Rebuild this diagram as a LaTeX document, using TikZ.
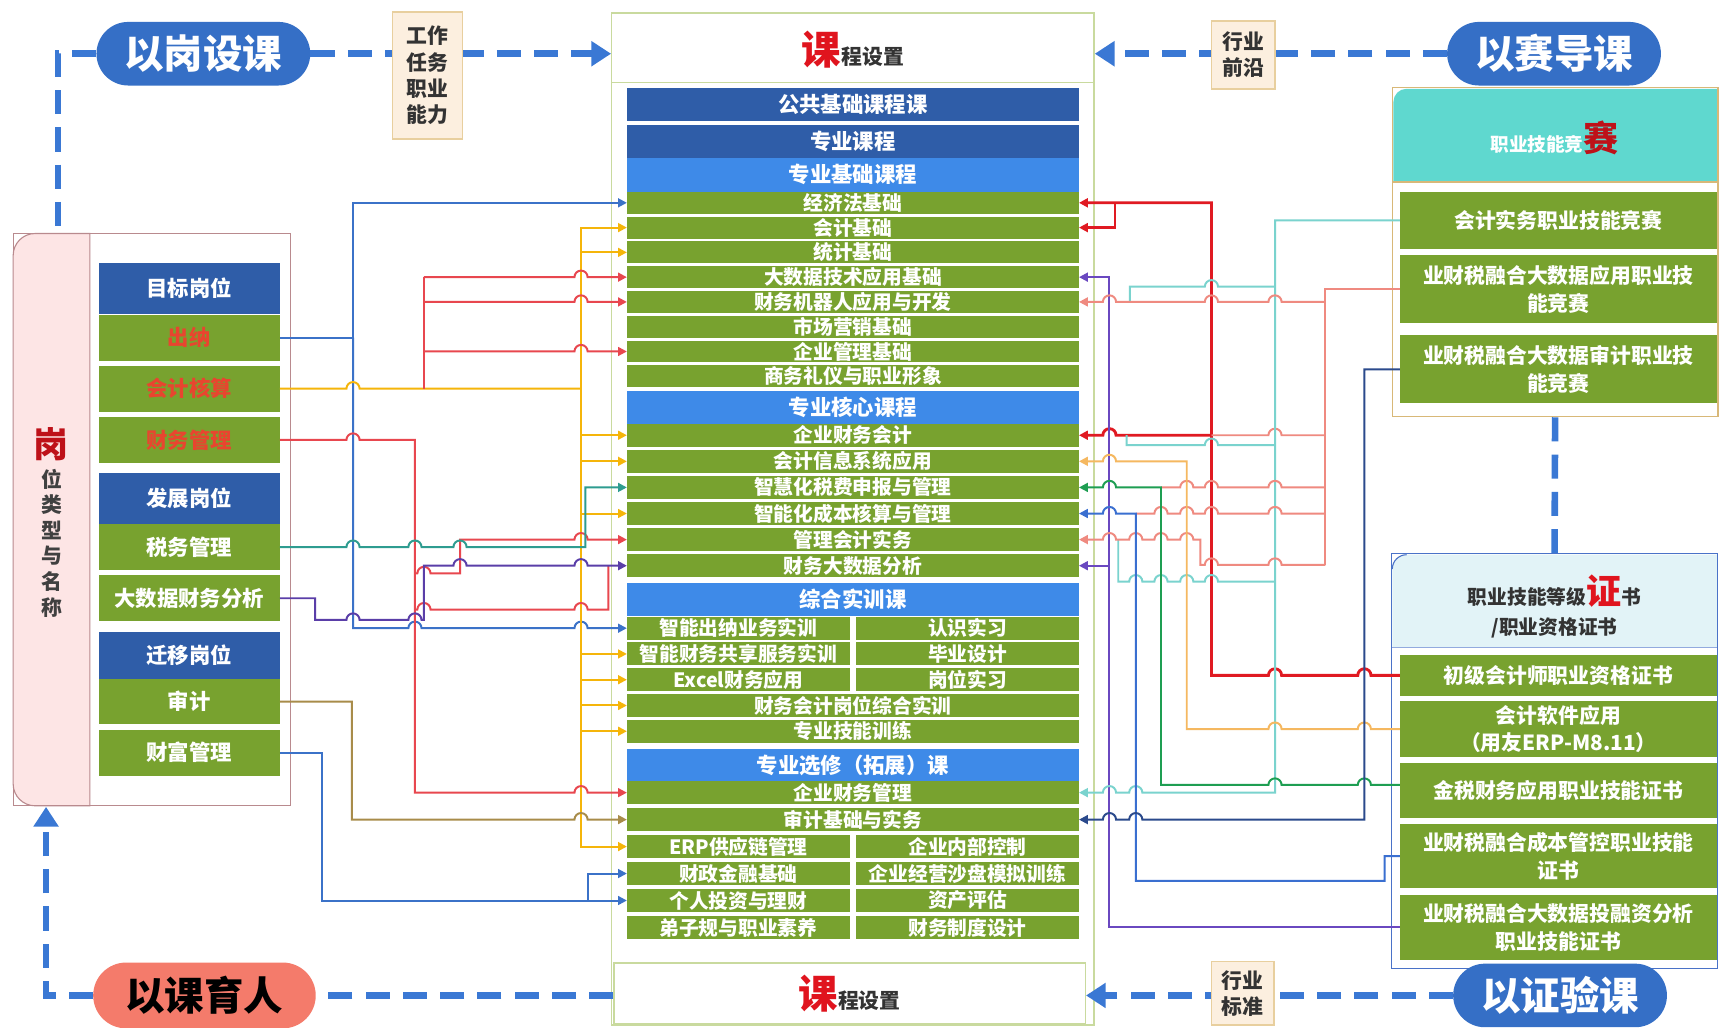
\documentclass[tikz,border=0pt]{standalone}
\usepackage{fontspec}
\setmainfont{Noto Sans CJK SC}
\usetikzlibrary{arrows.meta}
\newcommand\fsz[1]{\fontsize{#1}{#1}\selectfont}
\newcommand\hopR[2]{-- ({#1-6},#2) arc[start angle=180,end angle=0,radius=6pt]}
\newcommand\hopL[2]{-- ({#1+6},#2) arc[start angle=0,end angle=180,radius=6pt]}
\definecolor{dblue}{HTML}{2F5DA8}
\definecolor{lblue}{HTML}{3E8AE8}
\definecolor{grn}{HTML}{78A22F}
\definecolor{pillblue}{HTML}{356FC6}
\definecolor{dashblue}{HTML}{3A78D4}
\definecolor{salpill}{HTML}{F47B6B}
\definecolor{tabfill}{HTML}{FCEFDF}
\definecolor{tabdraw}{HTML}{E8CF9E}
\definecolor{framegrn}{HTML}{C9DA9E}
\definecolor{rose}{HTML}{B98A8E}
\definecolor{pinkfill}{HTML}{FDE5E5}
\definecolor{tealhdr}{HTML}{5FD8CF}
\definecolor{tanc}{HTML}{D8B878}
\definecolor{certhdr}{HTML}{E2F3F7}
\definecolor{certframe}{HTML}{4A72C8}
\definecolor{txtred}{HTML}{E8452F}
\definecolor{bigred}{HTML}{E0141E}
\definecolor{cBlue}{HTML}{3B72C8}
\definecolor{cYel}{HTML}{F5B50A}
\definecolor{cRed}{HTML}{E8474F}
\definecolor{cTeal}{HTML}{2E9C90}
\definecolor{cPur}{HTML}{5A3EA8}
\definecolor{cBrown}{HTML}{A88C4A}
\definecolor{cRedT}{HTML}{E01A22}
\definecolor{cPurB}{HTML}{6A48C0}
\definecolor{cCyan}{HTML}{7AD3CE}
\definecolor{cSal}{HTML}{EF8A80}
\definecolor{cGrn}{HTML}{1E9E52}
\definecolor{cBlueB}{HTML}{3A6FD0}
\definecolor{cYelB}{HTML}{F5B860}
\definecolor{cNavy}{HTML}{2B4A8C}
\begin{document}
\begin{tikzpicture}[x=1pt,y=-1pt,
  >={Triangle[length=8pt,width=8pt]},
  lk/.style={line width=1.8pt},
  lkT/.style={line width=2.6pt},
  dsh/.style={dashblue,line width=6pt,dash pattern=on 22pt off 12pt},
  dtip/.style={-{Triangle[length=18pt,width=22pt]}},
  crow/.style={fill=grn,text=white,inner sep=0,font=\bfseries\fsz{18}},
  hdrD/.style={fill=dblue,text=white,inner sep=0,minimum width=412,minimum height=30,font=\bfseries\fsz{19.5}},
  hdrL/.style={fill=lblue,text=white,inner sep=0,minimum width=412,minimum height=30,font=\bfseries\fsz{19.5}},
  lbox/.style={fill=grn,text=white,inner sep=0,minimum width=165,font=\bfseries\fsz{19.5}},
  lhdr/.style={fill=dblue,text=white,inner sep=0,minimum width=165,font=\bfseries\fsz{19.5}},
  ritem/.style={fill=grn,text=white,inner sep=0,minimum width=289,align=center,font=\bfseries\fontsize{19}{25}\selectfont},
  pill/.style={rounded corners=29pt,minimum height=58,minimum width=195,inner sep=0,font=\bfseries\fsz{36},text=white,fill=pillblue},
  tabbox/.style={fill=tabfill,draw=tabdraw,line width=1.5pt,inner sep=0,align=center,text=black!80,font=\bfseries\fontsize{19}{24}\selectfont}
]
\useasboundingbox (0,0) rectangle (1568,937);
\fill[white] (0,0) rectangle (1568,937);

% ---------------- course column frame
\node[draw=framegrn,line width=1.2pt,minimum width=440,minimum height=923,inner sep=0] (cframe) at (778,473.5) {};
\draw[framegrn,line width=1.2pt] (558,75) -- (998,75);
\node (ktitle) at (778,45) {\bfseries{\fsz{36}\color{bigred}课}{\fsz{19}\color{black!80}程设置}};
\node[draw=framegrn,line width=1.2pt,fill=white,minimum width=430,minimum height=55,inner sep=0] (botbox) at (775,906) {\bfseries{\fsz{36}\color{bigred}课}{\fsz{19}\color{black!80}程设置}};

% headers
\node[hdrD] (h0) at (778,95) {公共基础课程课};
\node[hdrD] (h1) at (778,129) {专业课程};
\node[hdrL,minimum height=31] (h2) at (778,159.5) {专业基础课程};
\node[hdrL] (hk) at (778,372) {专业核心课程};
\node[hdrL] (hs) at (778,547) {综合实训课};
\node[hdrL] (he) at (778,698) {专业选修（拓展）课};

% group 1
\tikzset{r1/.style={crow,minimum width=412,minimum height=20}}
\node[r1] (c1) at (778,185) {经济法基础};
\node[r1] (c2) at (778,207.6) {会计基础};
\node[r1] (c3) at (778,230.2) {统计基础};
\node[r1] (c4) at (778,252.8) {大数据技术应用基础};
\node[r1] (c5) at (778,275.4) {财务机器人应用与开发};
\node[r1] (c6) at (778,298) {市场营销基础};
\node[r1] (c7) at (778,320.6) {企业管理基础};
\node[r1] (c8) at (778,343.2) {商务礼仪与职业形象};
% group 2
\tikzset{r2/.style={crow,minimum width=412,minimum height=21}}
\node[r2] (k1) at (778,397) {企业财务会计};
\node[r2] (k2) at (778,420.8) {会计信息系统应用};
\node[r2] (k3) at (778,444.6) {智慧化税费申报与管理};
\node[r2] (k4) at (778,468.4) {智能化成本核算与管理};
\node[r2] (k5) at (778,492.2) {管理会计实务};
\node[r2] (k6) at (778,516) {财务大数据分析};
% group 3
\tikzset{rl/.style={crow,minimum width=203,minimum height=21},rr/.style={crow,minimum width=203,minimum height=21}}
\node[rl] (s1a) at (673.5,573) {智能出纳业务实训};
\node[rr] (s1b) at (882.5,573) {认识实习};
\node[rl] (s2a) at (673.5,596.5) {智能财务共享服务实训};
\node[rr] (s2b) at (882.5,596.5) {毕业设计};
\node[rl] (s3a) at (673.5,620) {Excel财务应用};
\node[rr] (s3b) at (882.5,620) {岗位实习};
\node[r2] (s4) at (778,643.5) {财务会计岗位综合实训};
\node[r2] (s5) at (778,667) {专业技能训练};
% group 4
\node[r2] (e1) at (778,723) {企业财务管理};
\node[r2] (e2) at (778,747.6) {审计基础与实务};
\node[rl] (e3a) at (673.5,772.2) {ERP供应链管理};
\node[rr] (e3b) at (882.5,772.2) {企业内部控制};
\node[rl] (e4a) at (673.5,796.8) {财政金融基础};
\node[rr] (e4b) at (882.5,796.8) {企业经营沙盘模拟训练};
\node[rl] (e5a) at (673.5,821.4) {个人投资与理财};
\node[rr] (e5b) at (882.5,821.4) {资产评估};
\node[rl] (e6a) at (673.5,846) {弟子规与职业素养};
\node[rr] (e6b) at (882.5,846) {财务制度设计};

% ---------------- left frame
\node[draw=rose,line width=1pt,minimum width=253,minimum height=522,inner sep=0] (lframe) at (138.5,474) {};
\draw[rose,line width=1pt,fill=pinkfill] (82,213) -- (32,213) arc[start angle=90,end angle=180,radius=20pt] -- (12,715) arc[start angle=180,end angle=270,radius=20pt] -- (82,735) -- cycle;
\node[font=\bfseries\fsz{32},text=bigred!85!black] (gang) at (47,405) {岗};
\foreach \ch [count=\i] in {位,类,型,与,名,称}
  \node[font=\bfseries\fsz{19},text=black!75] (v\i) at (47,{437+23.4*(\i-1)}) {\ch};

\node[lhdr,minimum height=46] (pa) at (172.5,263) {目标岗位};
\node[lbox,minimum height=42,text=txtred] (p1) at (172.5,308) {出纳};
\node[lbox,minimum height=42,text=txtred] (p2) at (172.5,354.5) {会计核算};
\node[lbox,minimum height=42,text=txtred] (p3) at (172.5,401.3) {财务管理};
\node[lhdr,minimum height=47] (pb) at (172.5,454.6) {发展岗位};
\node[lbox,minimum height=42] (p5) at (172.5,499) {税务管理};
\node[lbox,minimum height=42] (p6) at (172.5,545.7) {大数据财务分析};
\node[lhdr,minimum height=43] (pc) at (172.5,598) {迁移岗位};
\node[lbox,minimum height=41] (p8) at (172.5,640) {审计};
\node[lbox,minimum height=42] (p9) at (172.5,686.5) {财富管理};

% ---------------- right frames
\node[draw=tanc,line width=1.2pt,fill=white,minimum width=297,minimum height=300,inner sep=0] (rframe1) at (1418.5,230) {};
\fill[tealhdr] (1271,166) -- (1271,93) arc[start angle=180,end angle=90,radius=12pt] -- (1566,81) -- (1566,166) -- cycle;
\draw[tanc,line width=1pt] (1271,166) -- (1566,166);
\node[text=white,font=\bfseries] (rh1) at (1418,126) {{\fsz{17}职业技能竞}{\fsz{32}\color{bigred!85!black}赛}};
\node[ritem,minimum height=52] (m1) at (1421.5,201) {会计实务职业技能竞赛};
\node[ritem,minimum height=62] (m2) at (1421.5,264) {业财税融合大数据应用职业技\\能竞赛};
\node[ritem,minimum height=62] (m3) at (1421.5,337) {业财税融合大数据审计职业技\\能竞赛};

\node[draw=certframe,line width=1pt,fill=white,minimum width=298,minimum height=378,inner sep=0] (rframe2) at (1418,694) {};
\fill[certhdr] (1270,591) -- (1270,519) arc[start angle=180,end angle=90,radius=13pt] -- (1566,506) -- (1566,591) -- cycle;
\draw[certframe!60,line width=0.8pt] (1270,591) -- (1566,591);
\draw[certframe,line width=1pt] (1270,519) arc[start angle=180,end angle=90,radius=13pt];
\node[align=center,text=black!80,font=\bfseries\fontsize{18}{27}\selectfont] (rh2) at (1418,553) {职业技能等级{\fsz{32}\color{bigred}证}书\\/职业资格证书};
\node[ritem,minimum height=37] (q1) at (1421.5,616) {初级会计师职业资格证书};
\node[ritem,minimum height=51] (q2) at (1421.5,665) {会计软件应用\\（用友ERP-M8.11）};
\node[ritem,minimum height=50] (q3) at (1421.5,721) {金税财务应用职业技能证书};
\node[ritem,minimum height=58] (q4) at (1421.5,781) {业财税融合成本管控职业技能\\证书};
\node[ritem,minimum height=59] (q5) at (1421.5,846) {业财税融合大数据投融资分析\\职业技能证书};

% ---------------- dashed flows
\node[pill] (pL) at (185.5,49) {以岗设课};
\node[pill] (pS) at (1417.5,49) {以赛导课};
\node[pill] (pZ) at (1423,908) {以证验课};
\node[pill,fill=salpill,text=black,minimum width=203,minimum height=60,rounded corners=30pt] (pE) at (186.5,908) {以课育人};
\draw[dsh] (pL.west) -- (53,49) -- (53,213);
\draw[dsh,dtip] (pL.east) -- (cframe.west |- pL.east);
\draw[dsh,dtip] (pS.west) -- (cframe.east |- pS.west);
\draw[dsh,dtip] (pZ.west) -- (botbox.east |- pZ.west);
\draw[dsh] (botbox.west |- pE.east) -- (pE.east);
\draw[dsh,dtip] (pE.west) -- (42,908) -- (42,736);
\draw[dsh] (rframe1.south) -- (rframe2.north);
\node[tabbox,minimum width=64,minimum height=116] (t1) at (390,69) {工作\\任务\\职业\\能力};
\node[tabbox,minimum width=58,minimum height=62] (t2) at (1134,50) {行业\\前沿};
\node[tabbox,minimum width=57,minimum height=58] (t3) at (1133.5,906) {行业\\标准};

% ---------------- left connectors
\draw[lk,cBlue,->] (p1.east) -- (322,308) -- (322,185) -- (c1.west);
\draw[lk,cBlue,->] (322,308) -- (322,573) \hopR{378.5}{573} \hopR{530}{573} -- (s1a.west);
\draw[lk,cYel] (p2.east) \hopR{322}{354.5} -- (530,354.5);
\draw[lk,cYel,->] (530,354.5) -- (530,207.6) -- (c2.west);
\draw[lk,cYel,->] (530,354.5) -- (530,772.2) -- (e3a.west);
\foreach \t in {c3,k1,k2,k4,s2a,s3a,s4,s5}
  \draw[lk,cYel,->] ([xshift=-42pt]\t.west) -- (\t.west);
\draw[lk,cRed] (386.7,354.5) -- (386.7,252.8);
\draw[lk,cRed,->] (386.7,252.8) \hopR{530}{252.8} -- (c4.west);
\draw[lk,cRed,->] (386.7,275.4) \hopR{530}{275.4} -- (c5.west);
\draw[lk,cRed,->] (386.7,320.6) \hopR{530}{320.6} -- (c7.west);
\draw[lk,cRed,->] (p3.east) \hopR{322}{401.3} -- (378.5,401.3) -- (378.5,723) \hopR{530}{723} -- (e1.west);
\draw[lk,cRed,->] (378.5,523) \hopR{386.7}{523} -- (419.6,523) -- (419.6,492.2) \hopR{530}{492.2} -- (k5.west);
\draw[lk,cRed] (378.5,556) \hopR{386.7}{556} \hopR{530}{556} -- (554.9,556) -- (554.9,516);
\draw[lk,cTeal,->] (p5.east) \hopR{322}{499} \hopR{378.5}{499} \hopR{419.6}{499} -- (534,499) -- (534,444.6) -- (k3.west);
\draw[lk,cPur,->] (p6.east) -- (287.4,545.7) -- (287.4,565.5) \hopR{322}{565.5} \hopR{378.5}{565.5} -- (386.7,565.5) -- (386.7,516) \hopR{419.6}{516} \hopR{530}{516} -- (k6.west);
\draw[lk,cBrown,->] (p8.east) -- (321,640) -- (321,747.6) \hopR{530}{747.6} -- (e2.west);
\draw[lk,cBlue,->] (p9.east) -- (293.5,686.5) -- (293.5,821.4) -- (e5a.west);
\draw[lk,cBlue,->] (536.7,821.4) -- (536.7,796.8) -- (e4a.west);

% ---------------- right connectors
\draw[lkT,cRedT,->] (q1.west) \hopL{1244.5}{616} \hopL{1163}{616} -- (1105,616) -- (1105,185) -- (c1.east);
\draw[lkT,cRedT,->] (1017,185) -- (1017,207.6) -- (c2.east);
\draw[lk,cSal] (1209,397) \hopL{1163}{397} -- (1105,397);
\draw[lkT,cRedT,->] (1105,397) \hopL{1012}{397} -- (k1.east);
\draw[lk,cPurB,->] (q5.west) -- (1012,846) -- (1012,252.8) -- (c4.east);
\draw[lk,cPurB,->] (1012,516) -- (k6.east);
\draw[lk,cCyan,->] (m1.west) -- (1163,201) -- (1163,723) \hopL{1036}{723} \hopL{1012}{723} -- (e1.east);
\draw[lk,cCyan] (1163,261.5) \hopL{1105}{261.5} -- (1030.7,261.5) -- (1030.7,275.4);
\draw[lk,cCyan] (1163,406) \hopL{1105}{406} -- (1027.7,406) -- (1027.7,397);
\draw[lk,cCyan] (1163,530.5) \hopL{1105}{530.5} \hopL{1082.5}{530.5} \hopL{1059}{530.5} \hopL{1036}{530.5} -- (1020,530.5) -- (1020,492.2);
\draw[lk,cSal] (m2.west) -- (1209,264) -- (1209,515.3);
\draw[lk,cSal,->] (1209,275.4) \hopL{1163}{275.4} \hopL{1105}{275.4} \hopL{1012}{275.4} -- (c5.east);
\draw[lk,cSal] (1209,444.6) \hopL{1163}{444.6} \hopL{1105}{444.6} \hopL{1082.5}{444.6} -- (1059,444.6);
\draw[lk,cSal] (1209,468.4) \hopL{1163}{468.4} \hopL{1105}{468.4} \hopL{1082.5}{468.4} \hopL{1059}{468.4} -- (1036,468.4);
\draw[lk,cSal,->] (1209,515.3) \hopL{1163}{515.3} \hopL{1105}{515.3} -- (1095,515.3) -- (1095,492.2) \hopL{1082.5}{492.2} \hopL{1059}{492.2} \hopL{1036}{492.2} -- (1020,492.2) \hopL{1012}{492.2} -- (k5.east);
\draw[lk,cYelB,->] (q2.west) \hopL{1244.5}{665} \hopL{1163}{665} -- (1082.5,665) -- (1082.5,420.8) \hopL{1012}{420.8} -- (k2.east);
\draw[lk,cGrn,->] (1277,716) \hopL{1244.5}{716} \hopL{1163}{716} -- (1059,716) -- (1059,444.6) \hopL{1012}{444.6} -- (k3.east);
\draw[lk,cBlueB,->] (q4.west) -- (1263,781) -- (1263,803.5) -- (1036,803.5) -- (1036,468.4) \hopL{1012}{468.4} -- (k4.east);
\draw[lk,cNavy,->] (m3.west) -- (1244.5,337) -- (1244.5,747.6) \hopL{1036}{747.6} \hopL{1012}{747.6} -- (e2.east);
\end{tikzpicture}
\end{document}
